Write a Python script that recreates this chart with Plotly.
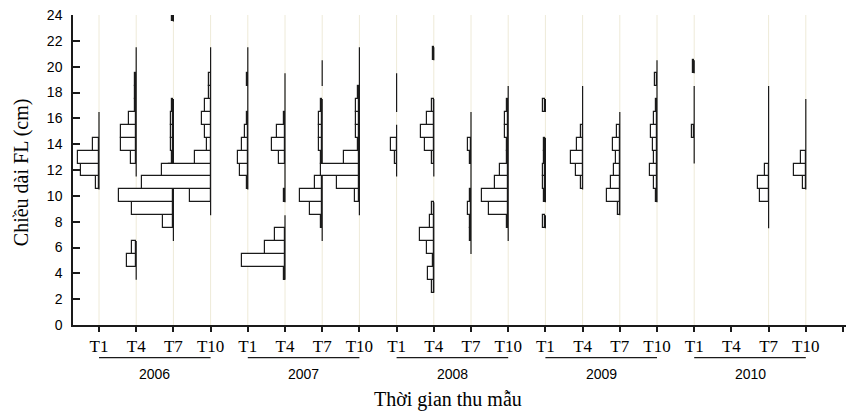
import plotly.graph_objects as go

# ---------------- data ----------------
years = [2006, 2007, 2008, 2009, 2010]
months = ["T1", "T4", "T7", "T10"]
length_bins = list(range(3, 25))  # fork length class centres (cm), bins 3..24

# relative frequency of each length class per sampling time (bins 3..24)
f2006_T1 = [0, 0, 0, 0, 0, 0, 0, 0, 3.3, 18, 20.7, 6.3, 0.3, 0.3, 0, 0, 0, 0, 0, 0, 0, 0]
f2006_T4 = [0, 0.3, 9, 4, 0, 0, 0, 0, 0, 0.3, 5.5, 15.5, 15.5, 7, 1, 1, 1.2, 0.3, 0.3, 0, 0, 0]
f2006_T7 = [0, 0, 0, 0, 0.3, 10.3, 41.3, 54.7, 8, 4, 1.2, 2.5, 2.5, 2.5, 1.2, 0, 0, 0, 0, 0, 0, 1]
f2006_T10 = [0, 0, 0, 0, 0, 0, 0.3, 20.3, 68.7, 49, 15.5, 3.5, 5.3, 8.7, 5.3, 1.2, 1.2, 0.3, 0.3, 0, 0, 0]

f2007_T1 = [0, 0, 0, 0, 0, 0, 0, 0, 1.2, 8.3, 10.3, 5.7, 3, 1.2, 0.3, 0.3, 1.2, 0.3, 0.3, 0, 0, 0]
f2007_T4 = [0, 1.2, 43.3, 20.3, 10, 0.3, 0, 1.5, 0.3, 0.3, 6, 12.7, 8.5, 1.5, 0.3, 0.3, 0.3, 0, 0, 0, 0, 0]
f2007_T7 = [0, 0, 0, 0, 0.3, 1.5, 12, 22, 7.5, 0.3, 1.5, 3, 3, 3, 1.5, 0, 0.3, 0.3, 0, 0, 0, 0]
f2007_T10 = [0, 0, 0, 0, 0, 0, 0.3, 4.7, 22.3, 38, 15, 1.5, 3.7, 3.7, 3.7, 1.5, 0.3, 0.3, 0.3, 0, 0, 0]

f2008_T1 = [0, 0, 0, 0, 0, 0, 0, 0, 0, 0.3, 1.7, 6, 0.3, 0, 0.3, 0.3, 0.3, 0, 0, 0, 0, 0]
f2008_T4 = [1.5, 6, 1.2, 7, 14, 4, 1.5, 0, 0, 0.3, 2.3, 8.5, 12.5, 6.8, 1.5, 0, 0, 0, 1.2, 0, 0, 0]
f2008_T7 = [0, 0, 0, 0.3, 1.2, 1.2, 3.3, 1.2, 0.3, 0.3, 1.5, 3.3, 0.3, 0.3, 0, 0, 0, 0, 0, 0, 0, 0]
f2008_T10 = [0, 0, 0, 0, 0.3, 1.5, 19, 26.2, 13.3, 8.7, 1.5, 1, 3, 3, 1.5, 0.3, 0, 0, 0, 0, 0, 0]

f2009_T1 = [0, 0, 0, 0, 0, 2, 0, 1.5, 2.7, 2.7, 1.5, 1.5, 0, 0, 2, 0, 0, 0, 0, 0, 0, 0]
f2009_T4 = [0, 0, 0, 0, 0, 0, 0, 0, 1.5, 7, 11.7, 5.7, 1.5, 0.3, 0.3, 0.3, 0, 0, 0, 0, 0, 0]
f2009_T7 = [0, 0, 0, 0, 0, 0, 1.5, 13, 9, 6, 4, 7.3, 2.7, 0.3, 0, 0, 0, 0, 0, 0, 0, 0]
f2009_T10 = [0, 0, 0, 0, 0, 0, 0, 1.2, 3, 7.3, 3.3, 4.3, 6, 3.3, 1.5, 0.3, 2, 0.3, 0, 0, 0, 0]

f2010_T1 = [0, 0, 0, 0, 0, 0, 0, 0, 0, 0, 0.3, 0.3, 2.3, 0.3, 0.3, 0.3, 0, 1.2, 0, 0, 0, 0]
f2010_T4 = [0] * 22
f2010_T7 = [0, 0, 0, 0, 0, 0.3, 0.3, 9, 10.3, 3.3, 0.3, 0.3, 0.3, 0.3, 0.3, 0.3, 0, 0, 0, 0, 0, 0]
f2010_T10 = [0, 0, 0, 0, 0, 0, 0, 0, 3.3, 11.7, 4.7, 0.3, 0.3, 0.3, 0.3, 0, 0, 0, 0, 0, 0, 0]

freqs = [
    f2006_T1, f2006_T4, f2006_T7, f2006_T10,
    f2007_T1, f2007_T4, f2007_T7, f2007_T10,
    f2008_T1, f2008_T4, f2008_T7, f2008_T10,
    f2009_T1, f2009_T4, f2009_T7, f2009_T10,
    f2010_T1, f2010_T4, f2010_T7, f2010_T10,
]

# ---------------- style ----------------
SCALE = 1 / 37.2          # x-axis units per frequency unit
BAR_MIN = 0.8             # smaller classes are shown only as the stem line
GRID = "#EEEAD8"
INK = "#1a1a1a"
SERIF = "Liberation Serif, Times New Roman, serif"
SANS = "Liberation Sans, Arial, sans-serif"

fig = go.Figure()
shapes = []
annotations = []

for i, f in enumerate(freqs):
    if any(v > 0 for v in f):
        shapes.append(dict(type="line", xref="x", yref="y", x0=i, x1=i, y0=0, y1=24,
                           line=dict(color=GRID, width=1), layer="below"))
    # stem line over every run of non-empty classes
    start = None
    prev = None
    for b, v in zip(length_bins + [None], f + [0]):
        if v > 0 and start is None:
            start = b - 0.5
        if v == 0 and start is not None:
            shapes.append(dict(type="line", xref="x", yref="y", x0=i, x1=i,
                               y0=start, y1=prev + 0.5,
                               line=dict(color=INK, width=1.2), layer="between"))
            start = None
        prev = b
    bb = [b for b, v in zip(length_bins, f) if v >= BAR_MIN]
    vv = [-v * SCALE for v in f if v >= BAR_MIN]
    if bb:
        fig.add_trace(go.Bar(
            orientation="h", y=bb, x=vv, base=[i] * len(bb), width=1,
            marker=dict(color="white", line=dict(color=INK, width=1.2)),
            showlegend=False, hoverinfo="skip"))

# year labels with underline
for k, yr in enumerate(years):
    x_first = 4 * k
    x_last = 4 * k + 3
    shapes.append(dict(type="line", xref="x", yref="paper", x0=x_first, x1=x_last,
                       y0=-0.1055, y1=-0.1055, line=dict(color=INK, width=1.2)))
    annotations.append(dict(xref="x", yref="paper", x=(x_first + x_last) / 2, y=-0.157,
                            text=str(yr), showarrow=False, xanchor="center", yanchor="middle",
                            font=dict(family=SANS, size=14, color="black")))

annotations.append(dict(xref="paper", yref="paper", x=(448 - 73) / 773, y=-0.24,
                        text="Thời gian thu mẫu", showarrow=False,
                        xanchor="center", yanchor="middle",
                        font=dict(family=SERIF, size=20, color="black")))
annotations.append(dict(xref="paper", yref="paper", x=(21 - 73) / 773, y=0.493,
                        text="Chiều dài FL (cm)", showarrow=False, textangle=-90,
                        xanchor="center", yanchor="middle",
                        font=dict(family=SERIF, size=20, color="black")))

tick_pos = list(range(len(freqs) + 1))
tick_txt = months * len(years) + [""]

fig.update_layout(
    width=846, height=411,
    margin=dict(l=73, r=0, t=15, b=86),
    paper_bgcolor="white", plot_bgcolor="white",
    barmode="overlay", bargap=0,
    shapes=shapes, annotations=annotations,
    xaxis=dict(range=[-26 / 37.2, (846 - 99) / 37.2], tickmode="array",
               tickvals=tick_pos, ticktext=tick_txt,
               ticks="outside", ticklen=5, tickwidth=1.5, tickcolor=INK,
               showline=True, linecolor=INK, linewidth=1.5,
               showgrid=False, zeroline=False,
               tickfont=dict(family=SERIF, size=17, color="black")),
    yaxis=dict(range=[0, 24], tickmode="array", tickvals=list(range(0, 25, 2)),
               ticks="inside", ticklen=7, tickwidth=1.5, tickcolor=INK,
               showline=True, linecolor=INK, linewidth=1.5,
               showgrid=False, zeroline=False, ticklabelstandoff=6,
               tickfont=dict(family=SANS, size=14, color="black")),
)

fig.write_html("out.html")
